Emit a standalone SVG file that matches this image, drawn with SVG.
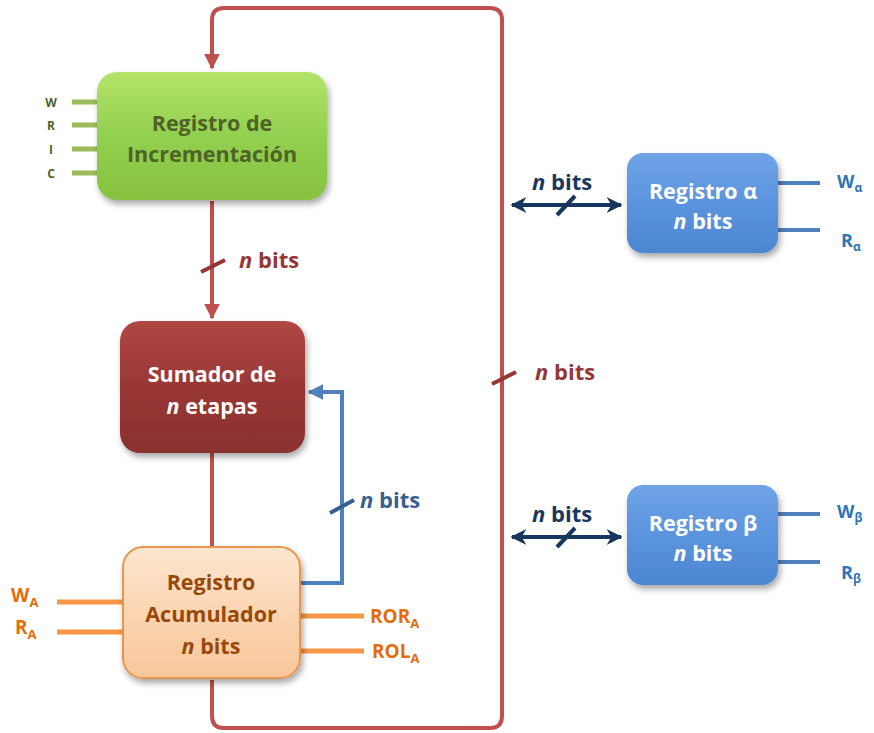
<svg xmlns="http://www.w3.org/2000/svg" width="874" height="733" viewBox="0 0 874 733">
<defs>
<style>
text{font-family:"Open Sans",Lato,"Liberation Sans",sans-serif;font-weight:bold;}
.red{stroke:#C0504D;stroke-width:4;fill:none;}
.blue{stroke:#4F81BD;stroke-width:4;fill:none;}
.navy{stroke:#17375E;stroke-width:4;fill:none;}
.gin{stroke:#9BBB59;stroke-width:5;}
.oin{stroke:#F79646;stroke-width:5;}
.bin{stroke:#4F81BD;stroke-width:4;}
.lbl{font-size:22px;}
.nt{font-size:21.5px;}
.slashR{stroke:#943634;stroke-width:4;}
.slashB{stroke:#376092;stroke-width:4;}
.slashN{stroke:#17375E;stroke-width:4;}
</style>
<filter id="sh" x="-20%" y="-20%" width="140%" height="150%">
<feDropShadow dx="2" dy="4" stdDeviation="3" flood-color="#000" flood-opacity="0.35"/>
</filter>
<linearGradient id="gG" x1="0" y1="0" x2="0" y2="1"><stop offset="0" stop-color="#B4E46A"/><stop offset="0.5" stop-color="#92D050"/><stop offset="1" stop-color="#86C23E"/></linearGradient>
<linearGradient id="gR" x1="0" y1="0" x2="0" y2="1"><stop offset="0" stop-color="#B04744"/><stop offset="0.5" stop-color="#993736"/><stop offset="1" stop-color="#8A302E"/></linearGradient>
<linearGradient id="gO" x1="0" y1="0" x2="0" y2="1"><stop offset="0" stop-color="#FDE6D0"/><stop offset="0.5" stop-color="#FBD5B2"/><stop offset="1" stop-color="#F8C79B"/></linearGradient>
<linearGradient id="gB" x1="0" y1="0" x2="0" y2="1"><stop offset="0" stop-color="#6FA3E6"/><stop offset="0.5" stop-color="#5B94DE"/><stop offset="1" stop-color="#4C86D2"/></linearGradient>
<marker id="aR" viewBox="0 0 10 10" refX="9" refY="5" markerWidth="4" markerHeight="4" orient="auto"><path d="M0,0 L10,5 L0,10 z" fill="#C0504D"/></marker>
<marker id="aB" viewBox="0 0 10 10" refX="9" refY="5" markerWidth="4" markerHeight="4" orient="auto"><path d="M0,0 L10,5 L0,10 z" fill="#4F81BD"/></marker>
<marker id="aN" viewBox="0 0 10 10" refX="9" refY="5" markerWidth="4" markerHeight="4" orient="auto-start-reverse"><path d="M0,0 L10,5 L0,10 L3,5 z" fill="#17375E"/></marker>
</defs>
<rect width="874" height="733" fill="#fff"/>

<g id="connectors">
<path class="red" d="M212,680 V716 Q212,728 224,728 H490 Q502,728 502,716 V20 Q502,8 490,8 H224 Q212,8 212,20 V68" marker-end="url(#aR)"/>
<path class="red" d="M212,201 V318" marker-end="url(#aR)"/>
<path class="red" d="M212,453 V548"/>
<path class="blue" d="M300,583 H342 V392 H309" marker-end="url(#aB)"/>
<path class="navy" d="M512,205 H621" marker-start="url(#aN)" marker-end="url(#aN)"/>
<path class="navy" d="M512,537 H621" marker-start="url(#aN)" marker-end="url(#aN)"/>
<line class="slashR" x1="201" y1="272" x2="225" y2="260"/>
<line class="slashR" x1="492" y1="384" x2="516" y2="372"/>
<line class="slashB" x1="330" y1="513" x2="354" y2="500"/>
<line class="slashN" x1="557" y1="215" x2="575" y2="196"/>
<line class="slashN" x1="557" y1="547" x2="575" y2="528"/>
<text class="lbl" x="239" y="268" fill="#953735"><tspan font-style="italic">n</tspan> bits</text>
<text class="lbl" x="535" y="380" fill="#953735"><tspan font-style="italic">n</tspan> bits</text>
<text class="lbl" x="360" y="508" fill="#376092"><tspan font-style="italic">n</tspan> bits</text>
<text class="lbl" x="532" y="190" fill="#17375E"><tspan font-style="italic">n</tspan> bits</text>
<text class="lbl" x="532" y="522" fill="#17375E"><tspan font-style="italic">n</tspan> bits</text>
</g>

<g id="inc">
<line class="gin" x1="72" y1="102" x2="98" y2="102"/>
<line class="gin" x1="72" y1="125" x2="98" y2="125"/>
<line class="gin" x1="72" y1="149" x2="98" y2="149"/>
<line class="gin" x1="72" y1="173" x2="98" y2="173"/>
<g font-size="12" fill="#4F6228" text-anchor="middle">
<text x="51" y="107">W</text><text x="51" y="130">R</text><text x="51" y="154">I</text><text x="51" y="178">C</text>
</g>
<rect x="97" y="72" width="230" height="128" rx="20" fill="url(#gG)" filter="url(#sh)"/>
<text class="nt" x="212" y="131" fill="#4F6228" text-anchor="middle">Registro de</text>
<text class="nt" x="212" y="162" fill="#4F6228" text-anchor="middle">Incrementación</text>
</g>

<g id="sum">
<rect x="120" y="321" width="185" height="132" rx="20" fill="url(#gR)" filter="url(#sh)"/>
<text class="nt" x="212" y="382" fill="#fff" text-anchor="middle">Sumador de</text>
<text class="nt" x="212" y="414" fill="#fff" text-anchor="middle"><tspan font-style="italic">n</tspan> etapas</text>
</g>

<g id="acc">
<line class="oin" x1="57" y1="602" x2="124" y2="602"/>
<line class="oin" x1="57" y1="632" x2="124" y2="632"/>
<line class="oin" x1="300" y1="616" x2="364" y2="616"/>
<line class="oin" x1="300" y1="651" x2="364" y2="651"/>
<g font-size="19" fill="#E46C0A">
<text x="11" y="602">W<tspan font-size="13" dy="5">A</tspan></text>
<text x="15" y="634">R<tspan font-size="13" dy="5">A</tspan></text>
<text x="370" y="623">ROR<tspan font-size="13" dy="5">A</tspan></text>
<text x="372" y="658">ROL<tspan font-size="13" dy="5">A</tspan></text>
</g>
<rect x="123" y="547" width="177" height="131" rx="20" fill="url(#gO)" stroke="#E8964E" stroke-width="2" filter="url(#sh)"/>
<text class="nt" x="211" y="590" fill="#984807" text-anchor="middle">Registro</text>
<text class="nt" x="211" y="622" fill="#984807" text-anchor="middle">Acumulador</text>
<text class="nt" x="211" y="654" fill="#984807" text-anchor="middle"><tspan font-style="italic">n</tspan> bits</text>
</g>

<g id="ralpha">
<line class="bin" x1="778" y1="183" x2="820" y2="183"/>
<line class="bin" x1="778" y1="230" x2="820" y2="230"/>
<g font-size="18" fill="#2E75B6">
<text x="837" y="188">W<tspan font-size="12" dy="4">α</tspan></text>
<text x="841" y="247">R<tspan font-size="12" dy="4">α</tspan></text>
</g>
<rect x="627" y="153" width="151" height="100" rx="16" fill="url(#gB)" filter="url(#sh)"/>
<text class="nt" x="703" y="199" fill="#fff" text-anchor="middle">Registro α</text>
<text class="nt" x="703" y="229" fill="#fff" text-anchor="middle"><tspan font-style="italic">n</tspan> bits</text>
</g>

<g id="rbeta">
<line class="bin" x1="778" y1="514" x2="820" y2="514"/>
<line class="bin" x1="778" y1="562" x2="820" y2="562"/>
<g font-size="18" fill="#2E75B6">
<text x="837" y="518">W<tspan font-size="12" dy="4">β</tspan></text>
<text x="841" y="579">R<tspan font-size="12" dy="4">β</tspan></text>
</g>
<rect x="627" y="485" width="151" height="100" rx="16" fill="url(#gB)" filter="url(#sh)"/>
<text class="nt" x="703" y="531" fill="#fff" text-anchor="middle">Registro β</text>
<text class="nt" x="703" y="561" fill="#fff" text-anchor="middle"><tspan font-style="italic">n</tspan> bits</text>
</g>
</svg>
